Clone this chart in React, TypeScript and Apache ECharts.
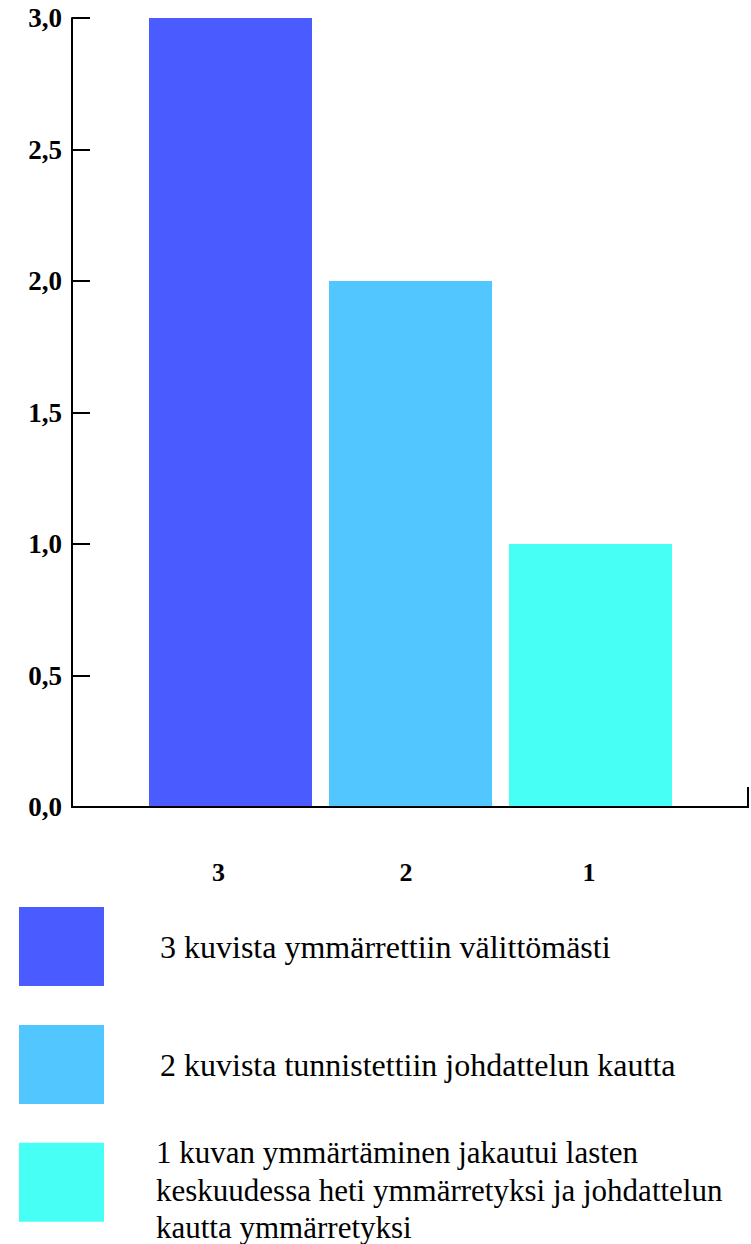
import React, { useEffect, useRef } from "react";
import * as echarts from "echarts";

const categories = ["3", "2", "1"];
const values = [3, 2, 1];
const seriesNames = [
  "3 kuvista ymmärrettiin välittömästi",
  "2 kuvista tunnistettiin johdattelun kautta",
  "1 kuvan ymmärtäminen jakautui lasten\nkeskuudessa heti ymmärretyksi ja johdattelun\nkautta ymmärretyksi",
];
const colors = ["#4a5bff", "#52c7ff", "#48fff6"];
const yTicks = { min: 0, max: 3, interval: 0.5 };

const SERIF = "'Liberation Serif', 'Times New Roman', serif";

export default function App() {
  const ref = useRef<HTMLDivElement>(null);
  useEffect(() => {
    if (!ref.current) return;
    const chart = echarts.init(ref.current, null, { renderer: "svg" });
    const series = categories.map((c, i) => ({
      name: seriesNames[i],
      type: "bar",
      stack: "all",
      xAxisIndex: 1,
      yAxisIndex: 1,
      barWidth: 163,
      itemStyle: { color: colors[i] },
      data: categories.map((_, j) => (j === i ? values[i] : "-")),
    }));
    const legendBase = {
      orient: "vertical",
      left: 19,
      height: 420,
      padding: 0,
      itemWidth: 85,
      itemHeight: 79,
      itemGap: 39,
      icon: "rect",
      selectedMode: false,
      textStyle: {
        fontFamily: SERIF,
        fontSize: 32,
        lineHeight: 37.5,
        color: "#000",
        padding: [0, 0, 0, 51],
      },
    };
    chart.setOption({
      animation: false,
      backgroundColor: "#ffffff",
      grid: [
        { left: 72, top: 18, width: 676, height: 789 },
        { left: 140.5, top: 18, width: 540, height: 789 },
      ],
      xAxis: [
        {
          gridIndex: 0,
          type: "value",
          min: 0,
          max: 1,
          z: 5,
          axisLine: { show: true, lineStyle: { color: "#000", width: 2 } },
          axisTick: { show: false },
          axisLabel: { show: false },
          splitLine: { show: false },
        },
        {
          gridIndex: 1,
          type: "category",
          data: categories,
          axisLine: { show: false },
          axisTick: { show: false },
          axisLabel: {
            margin: 52,
            fontFamily: SERIF,
            fontWeight: "bold",
            fontSize: 26,
            color: "#000",
            formatter: (v: string, idx: number) => `{c${idx}|${v}}`,
            rich: {
              c0: { fontFamily: SERIF, fontWeight: "bold", fontSize: 26, color: "#000", padding: [0, 24, 0, 0] },
              c1: { fontFamily: SERIF, fontWeight: "bold", fontSize: 26, color: "#000", padding: [0, 9, 0, 0] },
              c2: { fontFamily: SERIF, fontWeight: "bold", fontSize: 26, color: "#000", padding: [0, 3, 10, 0] },
            },
          },
        },
      ],
      yAxis: [
        {
          gridIndex: 0,
          type: "value",
          min: yTicks.min,
          max: yTicks.max,
          interval: yTicks.interval,
          axisLine: { show: true, lineStyle: { color: "#000", width: 2 } },
          axisTick: { show: true, inside: true, length: 18, lineStyle: { color: "#000", width: 2 } },
          axisLabel: {
            margin: 10,
            fontFamily: SERIF,
            fontWeight: "bold",
            fontSize: 27,
            color: "#000",
            formatter: (v: number) => v.toFixed(1).replace(".", ","),
          },
          splitLine: { show: false },
        },
        {
          gridIndex: 1,
          type: "value",
          min: yTicks.min,
          max: yTicks.max,
          show: false,
          splitLine: { show: false },
        },
      ],
      legend: [
        {
          ...legendBase,
          top: 907,
          data: [
            { name: seriesNames[0], textStyle: { padding: [0, 0, 4, 51] } },
            { name: seriesNames[1], textStyle: { padding: [6, 0, 0, 51] } },
          ],
        },
        {
          ...legendBase,
          top: 1118,
          textStyle: {
            fontFamily: SERIF,
            fontSize: 31,
            lineHeight: 37.5,
            color: "#000",
            padding: [0, 0, 0, 47],
            rich: {
              s: { fontFamily: SERIF, fontSize: 10, lineHeight: 16, color: "#000" },
              t: { fontFamily: SERIF, fontSize: 31, lineHeight: 37.5, color: "#000" },
            },
          },
          formatter: (name: string) =>
            "{s| }\n" + name.split("\n").map((l) => `{t|${l}}`).join("\n"),
          data: [seriesNames[2]],
        },
      ],
      graphic: [
        {
          type: "line",
          shape: { x1: 748, y1: 787, x2: 748, y2: 808 },
          style: { stroke: "#000", lineWidth: 2 },
          z: 10,
        },
      ],
      series,
    });
    return () => chart.dispose();
  }, []);
  return (
    <div
      ref={ref}
      style={{ position: "fixed", left: 0, top: 0, width: 751, height: 1244 }}
    />
  );
}
